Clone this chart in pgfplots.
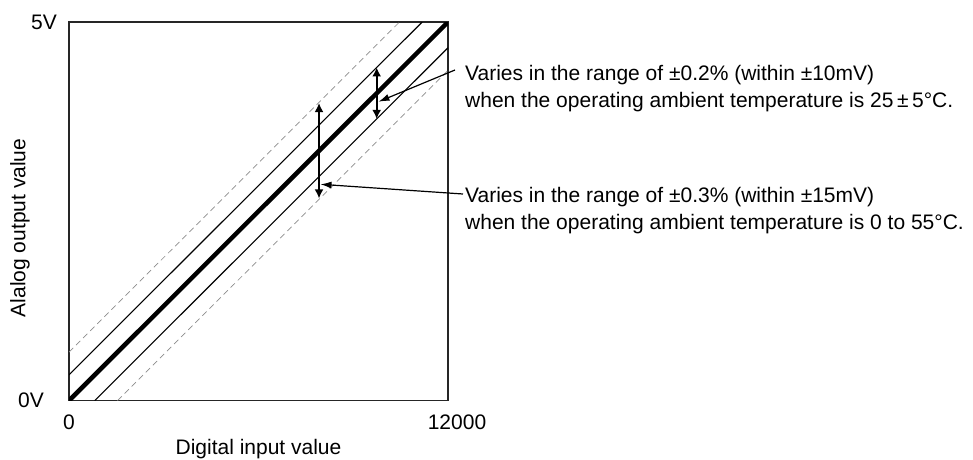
\documentclass[border=0pt]{standalone}
\usepackage{fontspec}
\setmainfont{Liberation Sans}
\usepackage{pgfplots}
\pgfplotsset{compat=1.18}
\usetikzlibrary{arrows.meta}
\begin{document}
\fontsize{21}{26.7}\selectfont
\begin{tikzpicture}
\begin{axis}[
  at={(0pt,0pt)}, anchor=south west,
  scale only axis, width=379pt, height=378.6pt,
  xmin=0, xmax=12000, ymin=0, ymax=5,
  axis line style={line width=1.2pt, black!85},
  xtick={0,12000}, xticklabels={0,\hspace*{18pt}12000},
  ytick={0,5}, yticklabels={0V\hspace*{13pt},5V},
  scaled x ticks=false, scaled y ticks=false,
  major tick length=0pt,
  xticklabel style={inner sep=0pt, anchor=north, yshift=-14.5pt},
  yticklabel style={inner sep=0pt, anchor=east, xshift=-12pt},
  xlabel={Digital input value},
  ylabel={Alalog output value},
  xlabel style={at={(axis description cs:0.5,-0.128)}, anchor=center},
  ylabel style={at={(axis description cs:-0.1293,0.456)}, anchor=center},
  clip=true,
]
% ideal characteristic
\addplot[black, line width=4.5pt] coordinates {(0,0) (12000,5)};
% +-0.2% band
\addplot[black, line width=1.1pt] coordinates {(0,0.34) (11184,5)};
\addplot[black, line width=1.1pt] coordinates {(816,0) (12000,4.66)};
% +-0.3% band
\addplot[black!45, line width=0.7pt, dash pattern=on 6pt off 4pt] coordinates {(0,0.64) (10464,5)};
\addplot[black!45, line width=0.7pt, dash pattern=on 6pt off 4pt] coordinates {(1536,0) (12000,4.36)};
% range arrows
\addplot[black, line width=1.9pt, {Latex[length=9pt,width=9pt]}-{Latex[length=9pt,width=9pt]}] coordinates {(9742,4.40) (9742,3.72)};
\addplot[black, line width=1.9pt, {Latex[length=9pt,width=9pt]}-{Latex[length=9pt,width=9pt]}] coordinates {(7916,3.93) (7916,2.67)};
\end{axis}
\draw[black, line width=1.2pt, -{Latex[length=11pt,width=7pt]}] (386pt,330.6pt) -- (309.5pt,298.9pt);
\draw[black, line width=1.2pt, -{Latex[length=11pt,width=7pt]}] (394pt,206.6pt) -- (251.5pt,216.3pt);
\node[anchor=base west, inner sep=0pt] at (396pt,319.8pt) {Varies in the range of ±0.2\% (within ±10mV)};
\node[anchor=base west, inner sep=0pt] at (396pt,293.1pt) {when the operating ambient temperature is 25\,±\,5°C.};
\node[anchor=base west, inner sep=0pt] at (396pt,198.1pt) {Varies in the range of ±0.3\% (within ±15mV)};
\node[anchor=base west, inner sep=0pt] at (396pt,171.4pt) {when the operating ambient temperature is 0 to 55°C.};
\pgfresetboundingbox
\useasboundingbox (-69pt,-58.4pt) rectangle (904pt,400.6pt);
\end{tikzpicture}
\end{document}
